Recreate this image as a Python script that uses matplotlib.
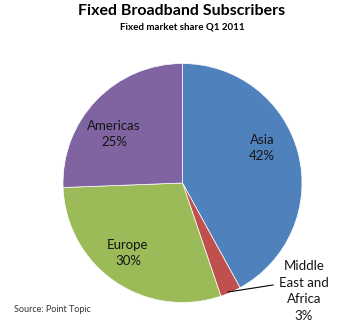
import matplotlib.pyplot as plt

# data
regions = ['Asia', 'Middle\nEast and\nAfrica', 'Europe', 'Americas']
shares = [42.0, 2.8, 29.6, 25.6]          # as drawn (unrounded)
share_labels = ['42%', '3%', '30%', '25%']  # as printed
colors = ['#4F81BD', '#C0504D', '#9BBB59', '#8064A2']

plt.rcParams['font.family'] = ['Lato', 'DejaVu Sans']

H = 330
fig = plt.figure(figsize=(3.5, 3.3), dpi=100)
ax = fig.add_axes([0, 0, 1, 1])

# pie centre / radius in pixel units (y measured from top)
cx, cy, r = 182.5, 183, 119.5
wedges, _ = ax.pie(shares, colors=colors, startangle=90, counterclock=False,
                   center=(cx, H - cy), radius=r, frame=True,
                   wedgeprops=dict(edgecolor='white', linewidth=0.5))
ax.set_xlim(0, 350)
ax.set_ylim(0, H)
ax.set_aspect('equal')
ax.axis('off')

# labels
lab = dict(ha='center', va='center', fontsize=9.5, color='#141414', linespacing=1.45)
ax.text(262, H - 148, f'{regions[0]}\n{share_labels[0]}', **lab)
ax.text(304, H - 291, f'{regions[1]}\n{share_labels[1]}', **lab)
ax.text(128, H - 253, f'{regions[2]}\n{share_labels[2]}', **lab)
ax.text(114, H - 134, f'{regions[3]}\n{share_labels[3]}', **lab)
ax.plot([228, 273], [H - 292, H - 285], color='black', lw=0.8)

fig.text(0.52, 1 - 11 / H, 'Fixed Broadband Subscribers', ha='center', va='center',
         fontsize=11.5, fontweight='bold')
fig.text(0.52, 1 - 27 / H, 'Fixed market share Q1 2011', ha='center', va='center',
         fontsize=7, fontweight='bold')
fig.text(14 / 350, 1 - 309 / H, 'Source: Point Topic', ha='left', va='center',
         fontsize=6.5, color='#333333')

fig.savefig('out.png', dpi=100)
